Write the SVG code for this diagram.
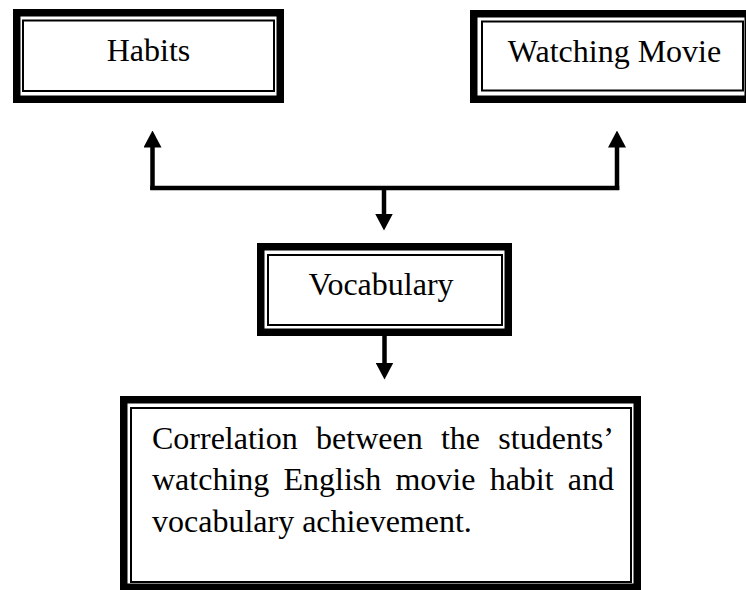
<svg xmlns="http://www.w3.org/2000/svg" width="746" height="590" viewBox="0 0 746 590">
  <defs>
    <style>
      .thick { fill: #fff; stroke: #000; stroke-width: 7.5; }
      .thin { fill: none; stroke: #000; stroke-width: 2; }
      .lbl { font-family: "Liberation Serif", "Times New Roman", serif; font-size: 32px; fill: #000; }
      .conn { fill: none; stroke: #000; stroke-width: 4.5; }
    </style>
    <marker id="ah" markerUnits="userSpaceOnUse" viewBox="0 0 17 18" markerWidth="17" markerHeight="18" refX="0.5" refY="9" orient="auto">
      <path d="M0,0 L17,9 L0,18 z" fill="#000"/>
    </marker>
  </defs>
  <rect width="746" height="590" fill="#fff"/>

  <g id="habits">
    <rect class="thick" x="16.75" y="12.75" width="263.5" height="86.5"/>
    <rect class="thin" x="23" y="20.5" width="251" height="70.5"/>
    <text class="lbl" x="148.5" y="61" text-anchor="middle">Habits</text>
  </g>

  <g id="watching-movie">
    <rect class="thick" x="473.75" y="13.75" width="274.5" height="85.5"/>
    <rect class="thin" x="482" y="21.5" width="261" height="69"/>
    <text class="lbl" x="614.5" y="62" text-anchor="middle">Watching Movie</text>
  </g>

  <g id="vocabulary">
    <rect class="thick" x="260.75" y="246.75" width="247.5" height="85.5"/>
    <rect class="thin" x="268" y="255" width="234" height="70"/>
    <text class="lbl" x="381" y="295" text-anchor="middle">Vocabulary</text>
  </g>

  <g id="correlation">
    <rect class="thick" x="123.75" y="399.75" width="513.5" height="187.5"/>
    <rect class="thin" x="131" y="408" width="500" height="174"/>
    <text class="lbl" x="152" y="449" word-spacing="10.3">Correlation between the students’</text>
    <text class="lbl" x="152" y="490" word-spacing="6.2">watching English movie habit and</text>
    <text class="lbl" x="152" y="532">vocabulary achievement.</text>
  </g>

  <g id="connectors">
    <path class="conn" d="M150.25,188 H619.25"/>
    <path class="conn" d="M152.5,190 V147" marker-end="url(#ah)"/>
    <path class="conn" d="M617,190 V147" marker-end="url(#ah)"/>
    <path class="conn" d="M384,188 V214" marker-end="url(#ah)"/>
    <path class="conn" d="M384.5,336 V363" marker-end="url(#ah)"/>
  </g>
</svg>
